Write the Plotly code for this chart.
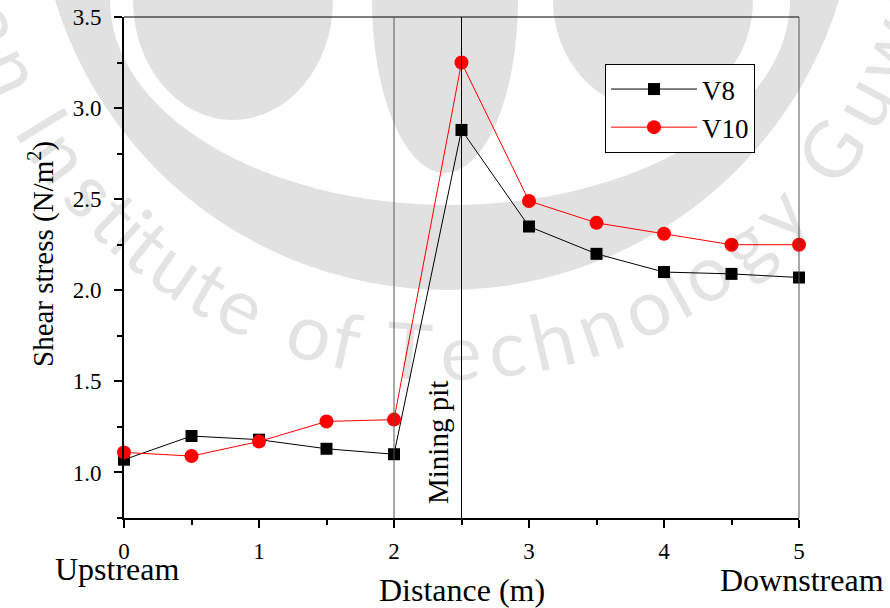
import math
import plotly.graph_objects as go

# Measured shear stress along the channel
distance = [0, 0.5, 1, 1.5, 2, 2.5, 3, 3.5, 4, 4.5, 5]
v8 = [1.07, 1.20, 1.18, 1.13, 1.10, 2.88, 2.35, 2.20, 2.10, 2.09, 2.07]
v10 = [1.11, 1.09, 1.17, 1.28, 1.29, 3.25, 2.49, 2.37, 2.31, 2.25, 2.25]
pit_edges = [2.0, 2.5]
y_ticks = [1.0, 1.5, 2.0, 2.5, 3.0, 3.5]
x_ticks = [0, 1, 2, 3, 4, 5]

W, H = 890, 608
ML, MR, MT, MB = 124, 91, 17, 90
PW, PH = W - ML - MR, H - MT - MB
SERIF = "Liberation Serif, Times New Roman, serif"


def px(x):
    return (x - ML) / PW


def py(y):
    return 1 - (y - MT) / PH


fig = go.Figure()

fig.add_trace(go.Scatter(
    x=distance, y=v8, name="V8", mode="lines+markers",
    line=dict(color="black", width=1),
    marker=dict(symbol="square", size=12, color="black"),
    cliponaxis=False,
))
fig.add_trace(go.Scatter(
    x=distance, y=v10, name="V10", mode="lines+markers",
    line=dict(color="#ff0000", width=1),
    marker=dict(symbol="circle", size=14, color="#ff0000"),
    cliponaxis=False,
))

shapes = []
# faint institutional emblem in the background
grey = "#e1e1e1"


def ellipse(cx, cy, rx, ry, color):
    return dict(type="circle", xref="paper", yref="paper", layer="below",
                x0=px(cx - rx), x1=px(cx + rx), y0=py(cy + ry), y1=py(cy - ry),
                fillcolor=color, line=dict(width=0))


shapes.append(ellipse(447, -120, 410, 410, grey))
shapes.append(ellipse(450, 0, 340, 205, "white"))
shapes.append(ellipse(233, 0, 100, 120, grey))
shapes.append(ellipse(445, 0, 73, 173, grey))
shapes.append(ellipse(653, 0, 100, 110, grey))

# thin frame on the top and right of the plot area
shapes.append(dict(type="line", xref="paper", yref="paper", x0=0, x1=1, y0=1, y1=1,
                   line=dict(color="black", width=1)))
shapes.append(dict(type="line", xref="paper", yref="paper", x0=1, x1=1, y0=0, y1=1,
                   line=dict(color="#555555", width=1)))
# edges of the mining pit
for xe, col in zip(pit_edges, ["#555555", "black"]):
    shapes.append(dict(type="line", xref="x", yref="paper", x0=xe, x1=xe, y0=0, y1=1,
                       line=dict(color=col, width=1)))

annotations = []
# curved watermark lettering
wm_text = "Indian Institute of Technology Guwahati"
widths = {"I": .278, "n": .556, "d": .556, "i": .222, "a": .556, " ": .278, "s": .5,
          "t": .278, "u": .556, "e": .556, "o": .556, "f": .278, "T": .611, "c": .5,
          "h": .556, "l": .222, "g": .556, "y": .5, "G": .778, "w": .722}
em = 88.0
cx, cy, r = 445.0, -120.0, 470.0
cum = []
acc = 0.0
for ch in wm_text:
    w = widths.get(ch, .556)
    cum.append(acc + w / 2)
    acc += w
t_index = wm_text.index("T")
t_anchor = math.radians(85.6)
for i, ch in enumerate(wm_text):
    if ch == " ":
        continue
    t = t_anchor + (cum[i] - cum[t_index]) * em / r
    xp = cx - r * math.cos(t)
    yp = cy + r * math.sin(t)
    if xp < -60 or xp > W + 60 or yp < -60 or yp > H + 60:
        continue
    annotations.append(dict(
        x=px(xp), y=py(yp), xref="paper", yref="paper", text=ch, showarrow=False,
        xanchor="center", yanchor="middle", textangle=90 - math.degrees(t),
        font=dict(family="Lato, Liberation Sans, sans-serif", size=78, weight=400,
                  color="rgba(0,0,0,0.11)"),
    ))

label_font = dict(family=SERIF, size=32, color="black")
annotations += [
    dict(x=px(438), y=py(443), xref="paper", yref="paper", text="Mining pit",
         showarrow=False, textangle=-90, xanchor="center", yanchor="middle",
         font=dict(family=SERIF, size=29, color="black")),
    dict(x=px(117), y=py(569), xref="paper", yref="paper", text="Upstream",
         showarrow=False, xanchor="center", yanchor="middle", font=label_font),
    dict(x=px(802), y=py(580), xref="paper", yref="paper", text="Downstream",
         showarrow=False, xanchor="center", yanchor="middle", font=label_font),
    dict(x=px(462), y=py(590), xref="paper", yref="paper", text="Distance (m)",
         showarrow=False, xanchor="center", yanchor="middle", font=label_font),
    dict(x=px(41), y=py(254), xref="paper", yref="paper",
         text="Shear stress (N/m<sup>2</sup>)", showarrow=False, textangle=-90,
         xanchor="center", yanchor="middle", font=dict(family=SERIF, size=29, color="black")),
]

fig.update_layout(
    width=W, height=H,
    margin=dict(l=ML, r=MR, t=MT, b=MB, autoexpand=False),
    paper_bgcolor="white", plot_bgcolor="rgba(0,0,0,0)",
    font=dict(family=SERIF, color="black"),
    shapes=shapes, annotations=annotations,
    legend=dict(x=px(605), y=py(64), xanchor="left", yanchor="top",
                bgcolor="white", bordercolor="black", borderwidth=1,
                font=dict(family=SERIF, size=27, color="black"),
                itemwidth=86, tracegroupgap=0),
    xaxis=dict(
        range=[0, 5], tickvals=x_ticks, ticktext=[str(v) for v in x_ticks],
        automargin=False,
        showgrid=False, zeroline=False, showline=True, linecolor="black", linewidth=2,
        ticks="outside", ticklen=8, tickwidth=2, tickcolor="black",
        minor=dict(dtick=0.5, ticks="outside", ticklen=5, tickwidth=2, tickcolor="black"),
        tickfont=dict(family=SERIF, size=23), ticklabelstandoff=3,
    ),
    yaxis=dict(
        range=[0.75, 3.5], tickvals=y_ticks, ticktext=[f"{v:.1f}" for v in y_ticks],
        automargin=False,
        showgrid=False, zeroline=False, showline=True, linecolor="black", linewidth=2,
        ticks="outside", ticklen=8, tickwidth=2, tickcolor="black",
        minor=dict(dtick=0.25, ticks="outside", ticklen=5, tickwidth=2, tickcolor="black"),
        tickfont=dict(family=SERIF, size=23), ticklabelstandoff=8,
    ),
)

fig.write_html("out.html")
